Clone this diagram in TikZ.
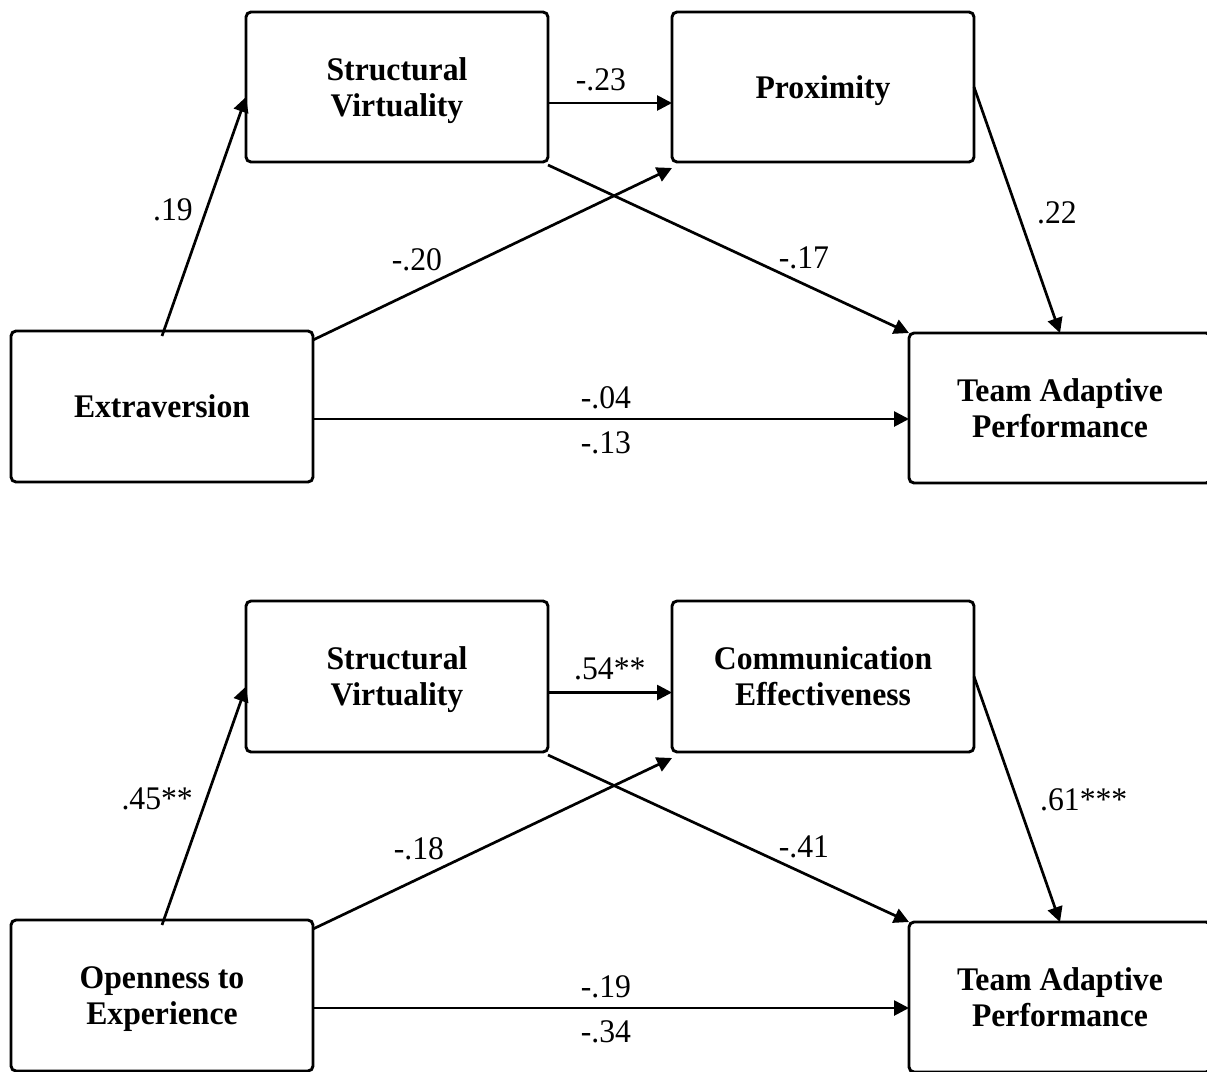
\documentclass[tikz,border=0pt]{standalone}
\usepackage{fontspec}
\setmainfont{Liberation Serif}[FakeStretch=0.96]
\usetikzlibrary{arrows.meta,calc}
\begin{document}
\begin{tikzpicture}[x=1pt,y=-1pt,
  varbox/.style={draw,line width=2.9pt,rounded corners=5pt,minimum width=302pt,minimum height=150pt,
    outer sep=0pt,inner sep=0pt,align=center,text depth=0pt,
    font=\fontsize{33}{36}\selectfont\bfseries},
  path/.style={line width=2.7pt,-{Triangle[length=15pt,width=15pt]}},
  coef/.style={font=\fontsize{33}{36}\selectfont,inner sep=0pt}]
\clip (0,0) rectangle (1207,1071);
% ---------- top model ----------
\node[varbox] (sv1) at (397,87) {Structural\\Virtuality};
\node[varbox] (px) at (823,87) {Proximity};
\node[varbox,minimum height=151pt] (ex) at (162,406.5) {Extraversion};
\node[varbox] (tap1) at (1060,408) {Team Adaptive\\Performance};
\draw[path] ($(ex.north)+(0,5)$) -- ($(sv1.west)+(0,10)$);
\draw[path] ($(sv1.east)+(0,16)$) -- ($(px.west)+(0,16)$);
\draw[path] ($(ex.north east)+(0,9)$) -- ($(px.south west)+(0,6)$);
\draw[path] ($(sv1.south east)+(0,3)$) -- (tap1.north west);
\draw[path] (px.east) -- (tap1.north);
\draw[path] ($(ex.east)+(0,12.5)$) coordinate (h1) -- (h1 -| tap1.west);
\node[coef,anchor=east] (l19) at (193,210) {.19};
\node[coef] (l23) at (601,80) {-.23};
\node[coef] (l20) at (417,260) {-.20};
\node[coef] (l17) at (804,258) {-.17};
\node[coef,anchor=west] (l22) at (1037,213) {.22};
\node[coef] (l04) at (606,398) {-.04};
\node[coef] (l13) at (606,443) {-.13};
% ---------- bottom model ----------
\node[varbox,minimum height=151pt] (sv2) at (397,676.5) {Structural\\Virtuality};
\node[varbox,minimum height=151pt] (ce) at (823,676.5) {Communication\\Effectiveness};
\node[varbox,minimum height=151pt] (op) at (162,995.5) {Openness to\\Experience};
\node[varbox] (tap2) at (1060,997) {Team Adaptive\\Performance};
\draw[path] ($(op.north)+(0,5)$) -- ($(sv2.west)+(0,10)$);
\draw[path] ($(sv2.east)+(0,16)$) -- ($(ce.west)+(0,16)$);
\draw[path] ($(op.north east)+(0,9)$) -- ($(ce.south west)+(0,6)$);
\draw[path] ($(sv2.south east)+(0,3)$) -- (tap2.north west);
\draw[path] (ce.east) -- (tap2.north);
\draw[path] ($(op.east)+(0,12.5)$) coordinate (h2) -- (h2 -| tap2.west);
\node[coef,anchor=east] (l45) at (193,799) {.45**};
\node[coef,anchor=west] (l54) at (574,669) {.54**};
\node[coef] (l18) at (419,849) {-.18};
\node[coef] (l41) at (804,847) {-.41};
\node[coef,anchor=west] (l61) at (1040,800) {.61***};
\node[coef] (l19b) at (606,987) {-.19};
\node[coef] (l34) at (606,1032) {-.34};
\end{tikzpicture}
\end{document}
